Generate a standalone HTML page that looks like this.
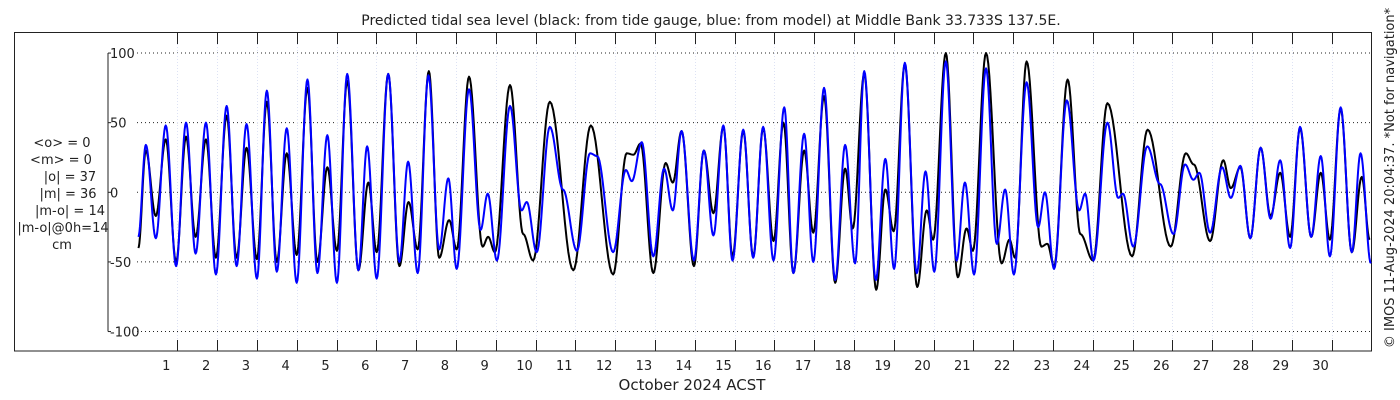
<!DOCTYPE html>
<html><head><meta charset="utf-8"><style>
html,body{margin:0;padding:0;background:#fff;}
svg{display:block;font-family:"DejaVu Sans","Liberation Sans",sans-serif;}
</style></head><body>
<svg id="chart" width="1400" height="400" viewBox="0 0 1400 400" xmlns="http://www.w3.org/2000/svg">
<rect x="0" y="0" width="1400" height="400" fill="#fff"/>
<text x="711" y="25" text-anchor="middle" font-size="14" fill="#222">Predicted tidal sea level (black: from tide gauge, blue: from model) at Middle Bank 33.733S 137.5E.</text>
<rect x="14.5" y="32.5" width="1357" height="318.5" fill="none" stroke="#222" stroke-width="1"/>
<g id="grid"></g>
<g id="yaxis"></g>
<g id="xaxis"></g>
<g id="series"></g>
<g font-size="13" fill="#222" text-anchor="middle">
<text x="62" y="147">&lt;o&gt; = 0</text>
<text x="61" y="164">&lt;m&gt; = 0</text>
<text x="70" y="181">|o| = 37</text>
<text x="68" y="198">|m| = 36</text>
<text x="70" y="215">|m-o| = 14</text>
<text x="63" y="232">|m-o|@0h=14</text>
<text x="62" y="249">cm</text>
</g>
<text x="692" y="390" text-anchor="middle" font-size="15" fill="#222">October 2024 ACST</text>
<text transform="translate(1394,178) rotate(-90)" text-anchor="middle" font-size="13" fill="#222">© IMOS 11-Aug-2024 20:04:37. *Not for navigation*</text>
</svg>
<script>
const yTicks = [100, 50, 0, -50, -100];
const dayLabels = [1,2,3,4,5,6,7,8,9,10,11,12,13,14,15,16,17,18,19,20,21,22,23,24,25,26,27,28,29,30];
const blueT = [0.02,0.21,0.46,0.71,0.97,1.22,1.46,1.72,1.97,2.24,2.49,2.74,3.00,3.25,3.50,3.75,4.00,4.27,4.52,4.77,5.01,5.27,5.55,5.77,6.01,6.30,6.58,6.80,7.04,7.31,7.58,7.81,8.02,8.33,8.62,8.80,9.03,9.36,9.65,9.78,10.03,10.36,10.69,11.04,11.37,11.55,11.95,12.27,12.42,12.67,12.96,13.23,13.45,13.67,13.98,14.23,14.47,14.72,14.95,15.22,15.47,15.72,15.98,16.25,16.48,16.75,16.98,17.25,17.53,17.78,18.03,18.26,18.55,18.79,19.01,19.28,19.58,19.80,20.02,20.31,20.58,20.79,21.02,21.32,21.59,21.80,22.02,22.34,22.63,22.80,23.03,23.35,23.66,23.81,24.02,24.37,24.64,24.76,25.02,25.37,25.69,26.03,26.32,26.53,26.68,26.95,27.25,27.47,27.71,27.96,28.22,28.47,28.71,28.96,29.21,29.49,29.73,29.96,30.23,30.51,30.73,30.99];
const blueV = [-32,34,-33,48,-53,50,-44,50,-59,62,-53,49,-62,73,-57,46,-65,81,-58,41,-65,85,-56,33,-62,85,-50,22,-58,84,-41,10,-55,74,-27,-1,-49,62,-13,-7,-43,47,2,-42,28,26,-43,16,8,36,-46,17,-13,44,-49,30,-31,48,-49,45,-47,47,-49,61,-58,42,-50,75,-63,34,-51,87,-63,24,-55,93,-58,15,-57,94,-49,7,-59,89,-37,2,-59,79,-25,0,-55,66,-13,-1,-49,50,-4,-1,-39,33,6,-30,20,9,14,-29,18,-4,19,-33,32,-19,23,-40,47,-32,26,-46,61,-43,28,-51];
const blackT = [0.02,0.21,0.46,0.71,0.97,1.22,1.46,1.72,1.97,2.24,2.49,2.74,3.00,3.25,3.50,3.75,4.00,4.27,4.52,4.77,5.01,5.27,5.55,5.80,6.01,6.30,6.58,6.81,7.04,7.32,7.58,7.83,8.02,8.33,8.67,8.81,8.98,9.36,9.69,9.94,10.36,10.95,11.39,11.95,12.29,12.46,12.64,12.96,13.27,13.45,13.67,13.98,14.23,14.47,14.72,14.95,15.22,15.47,15.72,15.98,16.23,16.48,16.75,16.98,17.25,17.53,17.78,17.97,18.26,18.56,18.79,19.00,19.28,19.59,19.83,19.99,20.31,20.61,20.83,20.99,21.32,21.71,21.91,22.05,22.34,22.71,22.86,23.03,23.37,23.69,24.01,24.37,24.99,25.38,25.96,26.34,26.54,26.95,27.28,27.47,27.71,27.96,28.22,28.47,28.71,28.96,29.21,29.49,29.73,29.96,30.23,30.51,30.76,30.96];
const blackV = [-40,30,-17,38,-50,40,-32,38,-47,55,-47,32,-48,65,-50,28,-45,75,-50,18,-42,80,-56,7,-43,85,-53,-7,-41,87,-47,-20,-41,83,-39,-32,-43,77,-30,-49,65,-56,48,-59,28,27,35,-58,21,7,44,-53,30,-15,47,-46,44,-46,46,-35,50,-58,30,-29,69,-65,17,-26,85,-70,2,-28,92,-68,-13,-34,100,-61,-26,-42,100,-51,-34,-47,94,-39,-37,-53,81,-30,-49,64,-46,45,-39,28,20,-35,23,3,18,-33,32,-17,14,-32,46,-32,14,-34,60,-43,11,-34];

const NS = 'http://www.w3.org/2000/svg';
const X0 = 137.5, DAYPX = 39.8, Y0 = 192.3, VPX = 1.3925;
function xScale(t){ return X0 + t * DAYPX; }
function yScale(v){ return Y0 - v * VPX; }
function mk(tag, attrs, parent){
  const e = document.createElementNS(NS, tag);
  for (const k in attrs) e.setAttribute(k, attrs[k]);
  parent.appendChild(e);
  return e;
}
const grid = document.getElementById('grid');
const yaxis = document.getElementById('yaxis');
const xaxis = document.getElementById('xaxis');
const series = document.getElementById('series');

for (const v of yTicks) {
  const y = yScale(v);
  const gl = mk('line', {x1: 137, x2: 1371, y1: y, y2: y, stroke: '#222', 'stroke-width': 1, 'stroke-dasharray': '1,3'}, grid);
  
  
  const tk = mk('line', {x1: 108, x2: 111, y1: y, y2: y, stroke: '#222', 'stroke-width': 1}, yaxis);
  
  
  const lb = mk('text', {x: 110, y: y + 5, 'font-size': 13, fill: '#222'}, yaxis);
  
  
  lb.textContent = String(v);
}
const yl = mk('line', {x1: 108, x2: 108, y1: yScale(100), y2: yScale(-100), stroke: '#222', 'stroke-width': 1}, yaxis);



for (const d of dayLabels) {
  const x = Math.round(xScale(d)) + 0.5;
  const vg = mk('line', {x1: x, x2: x, y1: 44, y2: 340, stroke: '#dde2f4', 'stroke-width': 1, 'stroke-dasharray': '1,2'}, grid);
  
  
  const t1 = mk('line', {x1: x, x2: x, y1: 32.5, y2: 44, stroke: '#222', 'stroke-width': 1}, xaxis);
  
  
  const t2 = mk('line', {x1: x, x2: x, y1: 340, y2: 351, stroke: '#222', 'stroke-width': 1}, xaxis);
  
  
  const lb = mk('text', {x: xScale(d) - 11, y: 370, 'text-anchor': 'middle', 'font-size': 13, fill: '#222'}, xaxis);
  
  
  lb.textContent = String(d);
}

function buildPath(T, V){
  let d = 'M' + xScale(T[0]).toFixed(2) + ',' + yScale(V[0]).toFixed(2);
  for (let i = 0; i < T.length - 1; i++) {
    const n = 14;
    for (let k = 1; k <= n; k++) {
      const f = k / n;
      const t = T[i] + (T[i+1] - T[i]) * f;
      const w = (1 - Math.cos(Math.PI * f)) / 2;
      const v = V[i] + (V[i+1] - V[i]) * w;
      d += 'L' + xScale(t).toFixed(2) + ',' + yScale(v).toFixed(2);
    }
  }
  return d;
}
const pb = mk('path', {d: buildPath(blackT, blackV), fill: 'none', stroke: '#000', 'stroke-width': 2, 'stroke-linejoin': 'round'}, series);


const pm = mk('path', {d: buildPath(blueT, blueV), fill: 'none', stroke: '#0000ff', 'stroke-width': 2, 'stroke-linejoin': 'round'}, series);


</script>
</body></html>
